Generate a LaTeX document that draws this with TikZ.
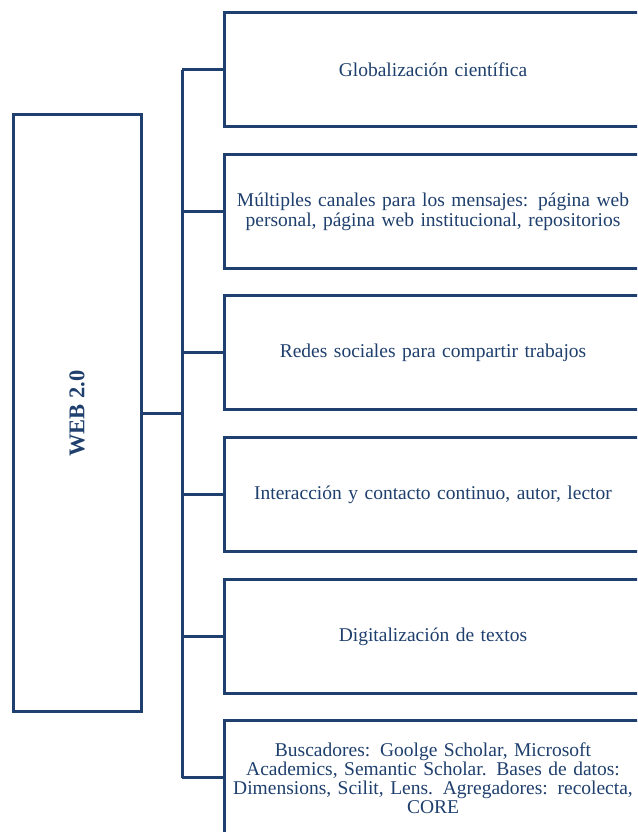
\documentclass[tikz,border=0pt]{standalone}
\usepackage{fontspec}
\setmainfont{Liberation Serif}
\usetikzlibrary{positioning}

\definecolor{azul}{RGB}{31,64,110}

\tikzset{
    caja/.style={draw=azul, line width=3pt, rectangle, minimum width=418pt,
        minimum height=114pt, text width=418pt, inner xsep=0pt, align=center,
        text=azul, font=\fontsize{19.5}{20.5}\selectfont},
    rama/.style={draw=azul, line width=3pt}
}

\begin{document}
\begin{tikzpicture}[x=1pt, y=1pt]
    \clip (0,0) rectangle (637,832);
    \fill[white] (0,0) rectangle (637,832);

    % Main box on the left
    \node[draw=azul, line width=3pt, minimum width=128pt, minimum height=597pt,
        text=azul] (web) at (77,418.5)
        {\rotatebox{90}{\fontsize{22.5}{24}\selectfont\bfseries WEB 2.0}};

    % Boxes on the right
    \node[caja] (b1) at (433,762) {Globalización científica};
    \node[caja] (b2) at (433,620) {Múltiples canales para los mensajes: página web\\ personal, página web institucional, repositorios};
    \node[caja] (b3) at (433,479) {Redes sociales para compartir trabajos};
    \node[caja] (b4) at (433,337) {Interacción y contacto continuo, autor, lector};
    \node[caja] (b5) at (433,195) {Digitalización de textos};
    \node[caja, font=\fontsize{19.5}{19}\selectfont] (b6) at (433,54) {Buscadores: Goolge Scholar, Microsoft\\ Academics, Semantic Scholar. Bases de datos:\\ Dimensions, Scilit, Lens. Agregadores: recolecta,\\ CORE};

    % Trunk
    \coordinate (arriba) at (182,0 |- b1.west);
    \coordinate (abajo) at (182,0 |- b6.west);
    \draw[rama] (arriba) -- (abajo);
    \draw[rama] (web.east) -- (web.east -| arriba);

    % Branches to each box
    \draw[rama] (b1.west -| arriba) -- (b1.west);
    \draw[rama] (b2.west -| arriba) -- (b2.west);
    \draw[rama] (b3.west -| arriba) -- (b3.west);
    \draw[rama] (b4.west -| arriba) -- (b4.west);
    \draw[rama] (b5.west -| arriba) -- (b5.west);
    \draw[rama] (b6.west -| arriba) -- (b6.west);
\end{tikzpicture}
\end{document}
